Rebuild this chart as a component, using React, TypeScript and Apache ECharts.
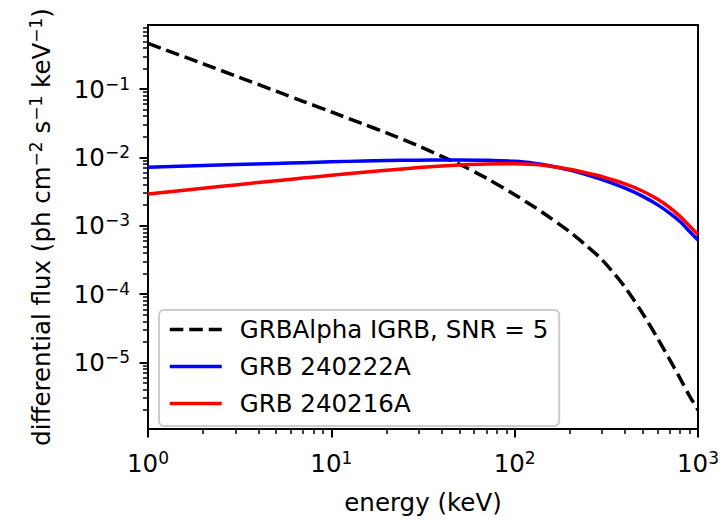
import React, { useEffect, useRef } from 'react';
import * as echarts from 'echarts';

// ---- data ----
const energy = [1, 2, 3, 5, 7, 10, 15, 20, 30, 40, 50, 70, 100, 130, 150, 200, 250, 300, 400, 500, 600, 700, 800, 900, 1000];

const igrbSensitivity = [
  0.466, 0.234, 0.156, 0.093, 0.0662, 0.0462, 0.0306, 0.02284, 0.01462, 0.01034, 0.00793, 0.00497,
  0.00285, 0.00183, 0.00141, 0.000812, 0.000494, 0.000317, 0.000126, 0.0000515, 0.0000229,
  0.0000111, 0.0000058, 0.00000322, 0.00000201,
];

const grb240222A = [
  0.00719, 0.00759, 0.00784, 0.00816, 0.00838, 0.00862, 0.00886, 0.00899, 0.00912, 0.00918, 0.00919,
  0.0091, 0.00876, 0.00817, 0.00769, 0.00651, 0.00551, 0.00472, 0.003544, 0.002689, 0.002036,
  0.001532, 0.001142, 0.000824, 0.000617,
];

const grb240216A = [
  0.00292, 0.003537, 0.003957, 0.00455, 0.004978, 0.005467, 0.00605, 0.006478, 0.007091, 0.007488,
  0.007733, 0.00798, 0.00807, 0.007846, 0.007557, 0.006699, 0.005878, 0.005215, 0.004093, 0.003197,
  0.002456, 0.001848, 0.001358, 0.000989, 0.000746,
];

const seriesNames = ['GRBAlpha IGRB, SNR = 5', 'GRB 240222A', 'GRB 240216A'];
const seriesColors = ['#000000', '#0000ff', '#ff0000'];

const xMajorTicks = [1, 10, 100, 1000];
const xMinorTicks = [
  2, 3, 4, 5, 6, 7, 8, 9,
  20, 30, 40, 50, 60, 70, 80, 90,
  200, 300, 400, 500, 600, 700, 800, 900,
];
const yMajorTicks = [1e-5, 1e-4, 1e-3, 1e-2, 1e-1];
const yMinorTicks = [
  2e-6, 3e-6, 4e-6, 5e-6, 6e-6, 7e-6, 8e-6, 9e-6,
  2e-5, 3e-5, 4e-5, 5e-5, 6e-5, 7e-5, 8e-5, 9e-5,
  2e-4, 3e-4, 4e-4, 5e-4, 6e-4, 7e-4, 8e-4, 9e-4,
  2e-3, 3e-3, 4e-3, 5e-3, 6e-3, 7e-3, 8e-3, 9e-3,
  2e-2, 3e-2, 4e-2, 5e-2, 6e-2, 7e-2, 8e-2, 9e-2,
  2e-1, 3e-1, 4e-1, 5e-1, 6e-1, 7e-1, 8e-1,
];

const X_MIN = 1;
const X_MAX = 1000;
const Y_MIN = 1.062e-6;
const Y_MAX = 0.865;

const FONT = 'DejaVu Sans';
const FS = 24.5;
const SFS = 17;
const LINE_W = 3.5;
const DASH = [13.6, 5.9];

const rich = {
  b: { fontSize: FS, fontFamily: FONT, color: '#000' },
  s: { fontSize: SFS, fontFamily: FONT, color: '#000', padding: [0, 0, 11, 0] },
};

const supLabel = (v: number) => {
  const e = Math.round(Math.log10(v));
  return '{b|10}{s|' + (e < 0 ? '\u2212' + -e : String(e)) + '}';
};

export default function App() {
  const ref = useRef<HTMLDivElement>(null);

  useEffect(() => {
    if (!ref.current) return;
    const chart = echarts.init(ref.current, undefined, { renderer: 'svg' });

    const seriesData = [igrbSensitivity, grb240222A, grb240216A];

    chart.setOption({
      animation: false,
      backgroundColor: '#ffffff',
      grid: {
        left: 148,
        right: 25,
        top: 25,
        bottom: 83,
        show: true,
        borderColor: '#000',
        borderWidth: 2,
        backgroundColor: 'transparent',
      },
      legend: {
        orient: 'vertical',
        left: 159,
        top: 310,
        itemWidth: 52,
        itemHeight: 14,
        itemGap: 12,
        padding: [7, 11, 10, 9],
        backgroundColor: 'rgba(255,255,255,0.8)',
        borderColor: '#cccccc',
        borderWidth: 2,
        borderRadius: 5,
        itemStyle: { opacity: 0, borderWidth: 0 },
        lineStyle: { width: LINE_W, opacity: 1 },
        textStyle: { fontFamily: FONT, fontSize: FS, color: '#000', lineHeight: 24, padding: [0, 0, 0, 13] },
        data: seriesNames,
      },
      xAxis: [
        {
          type: 'log',
          logBase: 10,
          min: X_MIN,
          max: X_MAX,
          name: 'energy (keV)',
          nameLocation: 'middle',
          nameGap: 61,
          nameTextStyle: { fontFamily: FONT, fontSize: FS, color: '#000' },
          axisLine: { show: false },
          axisTick: { show: true, inside: false, length: 8.5, lineStyle: { color: '#000', width: 2 }, customValues: xMajorTicks },
          axisLabel: { show: true, margin: 20, formatter: supLabel, rich, customValues: xMajorTicks },
          splitLine: { show: false },
          minorTick: { show: false },
        },
        {
          type: 'log',
          logBase: 10,
          min: X_MIN,
          max: X_MAX,
          position: 'bottom',
          axisLine: { show: false },
          axisTick: { show: true, inside: false, length: 5, lineStyle: { color: '#000', width: 1.5 }, customValues: xMinorTicks },
          axisLabel: { show: false },
          splitLine: { show: false },
        },
      ],
      yAxis: [
        {
          type: 'log',
          logBase: 10,
          min: Y_MIN,
          max: Y_MAX,
          name: 'differential flux (ph cm{s|\u22122} s{s|\u22121} keV{s|\u22121})',
          nameLocation: 'middle',
          nameGap: 93,
          nameRotate: 90,
          nameTextStyle: { fontFamily: FONT, fontSize: FS, color: '#000', rich },
          axisLine: { show: false },
          axisTick: { show: true, inside: false, length: 8.5, lineStyle: { color: '#000', width: 2 }, customValues: yMajorTicks },
          axisLabel: { show: true, margin: 18, formatter: supLabel, rich, customValues: yMajorTicks },
          splitLine: { show: false },
        },
        {
          type: 'log',
          logBase: 10,
          min: Y_MIN,
          max: Y_MAX,
          position: 'left',
          axisLine: { show: false },
          axisTick: { show: true, inside: false, length: 5, lineStyle: { color: '#000', width: 1.5 }, customValues: yMinorTicks },
          axisLabel: { show: false },
          splitLine: { show: false },
        },
      ],
      series: seriesNames.map((name, i) => ({
        name,
        type: 'line',
        xAxisIndex: 0,
        yAxisIndex: 0,
        data: energy.map((e, j) => [e, seriesData[i][j]]),
        symbol: 'none',
        smooth: 0.3,
        clip: true,
        lineStyle: {
          color: seriesColors[i],
          width: LINE_W,
          type: i === 0 ? DASH : 'solid',
          join: 'round',
        },
        itemStyle: { color: seriesColors[i], opacity: 0 },
      })),
    });

    return () => chart.dispose();
  }, []);

  return <div ref={ref} style={{ position: 'fixed', left: 0, top: 0, width: 723, height: 520 }} />;
}
